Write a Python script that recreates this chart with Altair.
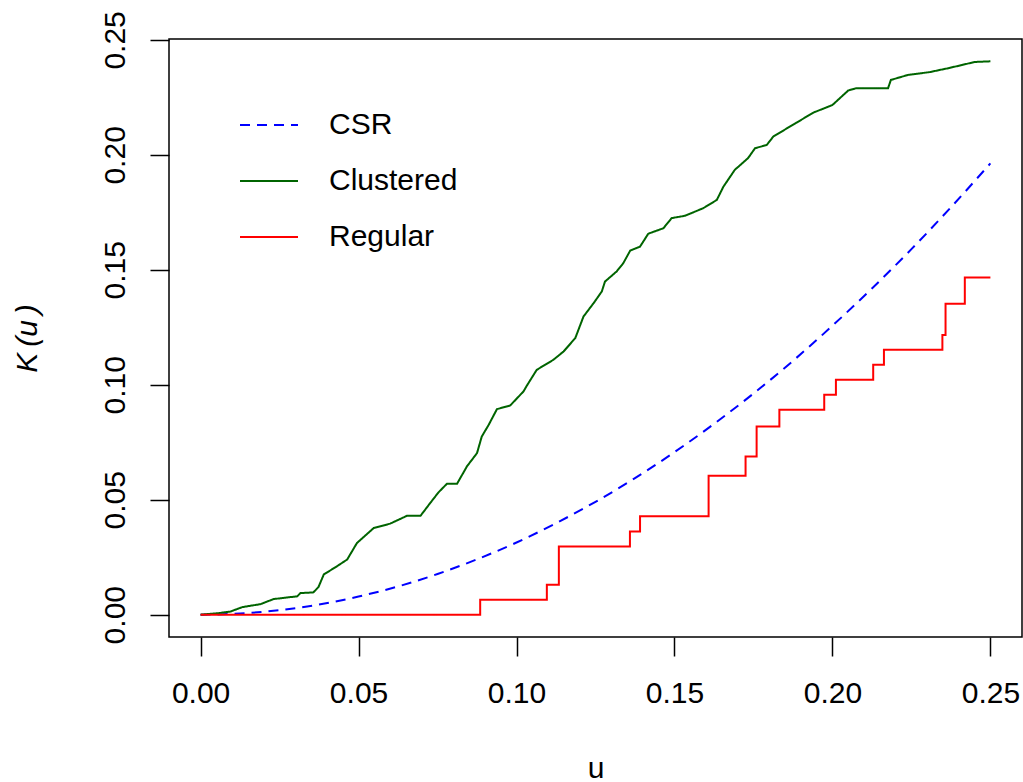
import altair as alt
import pandas as pd

# ---- data ----
csr_u = [0.0, 0.0125, 0.025, 0.0375, 0.05, 0.0625, 0.075, 0.0875, 0.1, 0.1125,
         0.125, 0.1375, 0.15, 0.1625, 0.175, 0.1875, 0.2, 0.2125, 0.225, 0.2375, 0.25]
csr_k = [0.0, 0.0005, 0.002, 0.0044, 0.0079, 0.0123, 0.0177, 0.0241, 0.0314, 0.0398,
         0.0491, 0.0594, 0.0707, 0.0830, 0.0962, 0.1104, 0.1257, 0.1419, 0.1590, 0.1772, 0.1963]

clu_u = [0.0, 0.0058, 0.0095, 0.0132, 0.019, 0.0231, 0.0306, 0.0316, 0.0357, 0.0373,
         0.039, 0.0432, 0.0464, 0.0495, 0.0548, 0.060, 0.0653, 0.0696, 0.0727, 0.0753,
         0.078, 0.0812, 0.0843, 0.0875, 0.089, 0.0912, 0.0938, 0.098, 0.1022, 0.1033,
         0.1064, 0.1117, 0.1149, 0.1186, 0.1212, 0.1244, 0.127, 0.128, 0.1317, 0.1338,
         0.136, 0.1391, 0.1417, 0.1465, 0.1491, 0.1533, 0.1591, 0.1634, 0.1655, 0.1691,
         0.1733, 0.1755, 0.1792, 0.1813, 0.1886, 0.194, 0.200, 0.205, 0.2075,
         0.2176, 0.2185, 0.224, 0.2308, 0.237, 0.245, 0.25]
clu_k = [0.0, 0.0007, 0.0014, 0.0033, 0.0046, 0.0068, 0.0080, 0.0094, 0.0097, 0.012,
         0.0175, 0.0211, 0.024, 0.0312, 0.0377, 0.0396, 0.0430, 0.0430, 0.0486, 0.0532,
         0.0570, 0.0570, 0.0645, 0.0703, 0.0775, 0.0826, 0.0894, 0.091, 0.0971, 0.0997,
         0.1065, 0.1109, 0.1145, 0.1203, 0.1297, 0.1355, 0.1406, 0.1449, 0.1493, 0.1529,
         0.1584, 0.1601, 0.1657, 0.1681, 0.1725, 0.1735, 0.1768, 0.1804, 0.1862, 0.1935,
         0.1986, 0.2029, 0.2043, 0.208, 0.214, 0.2184, 0.2217, 0.228, 0.229,
         0.229, 0.2326, 0.2348, 0.236, 0.2378, 0.2404, 0.2407]

reg_u = [0.0, 0.0885, 0.1096, 0.1134, 0.1359, 0.1391, 0.1608, 0.1725, 0.176, 0.1832,
         0.1974, 0.2011, 0.2129, 0.2163, 0.2348, 0.2358, 0.2419, 0.25]
reg_k = [0.0, 0.0065, 0.013, 0.0297, 0.0362, 0.0428, 0.0604, 0.0688, 0.0819, 0.0891,
         0.0957, 0.1022, 0.1087, 0.1152, 0.1217, 0.1352, 0.1467, 0.1467]

series = ["CSR", "Clustered", "Regular"]
colors = ["#0000FF", "#006400", "#FF0000"]
dashes = [[10, 7], [1, 0], [1, 0]]
x_ticks = [0.0, 0.05, 0.10, 0.15, 0.20, 0.25]
y_ticks = [0.0, 0.05, 0.10, 0.15, 0.20, 0.25]

df_csr = pd.DataFrame({"u": csr_u, "K": csr_k, "s": "CSR"})
df_clu = pd.DataFrame({"u": clu_u, "K": clu_k, "s": "Clustered"})
df_reg = pd.DataFrame({"u": reg_u, "K": reg_k, "s": "Regular"})

FONT = "Liberation Sans"
FS = 30

x_enc = alt.X("u:Q",
              scale=alt.Scale(domain=[-0.01, 0.26], nice=False, zero=False),
              axis=alt.Axis(values=x_ticks, format=".2f", title="u",
                            grid=False, domain=False, ticks=True, tickSize=19,
                            tickWidth=1.5, tickColor="black",
                            labelFont=FONT, labelFontSize=FS, labelColor="black",
                            labelPadding=46, labelBaseline="alphabetic",
                            labelFlush=False, labelOverlap=False,
                            titleFont=FONT, titleFontSize=FS, titleFontWeight="normal",
                            titleColor="black", titleX=426.5, titleY=140,
                            titleBaseline="alphabetic", titleAlign="center"))
y_enc = alt.Y("K:Q",
              scale=alt.Scale(domain=[-0.0097, 0.2504], nice=False, zero=False),
              axis=alt.Axis(values=y_ticks, format=".2f", title="K\u2009(u\u2009)",
                            grid=False, domain=False, ticks=True, tickSize=19,
                            tickWidth=1.5, tickColor="black",
                            labelFont=FONT, labelFontSize=FS, labelColor="black",
                            labelAngle=270, labelAlign="center",
                            labelBaseline="alphabetic", labelPadding=26,
                            labelFlush=False, labelOverlap=False,
                            titleFont=FONT, titleFontSize=FS, titleFontWeight="normal",
                            titleFontStyle="italic", titleColor="black",
                            titleAngle=270, titleX=-133, titleY=299,
                            titleBaseline="alphabetic", titleAlign="center"))

legend = alt.Legend(orient="none", legendX=70, legendY=56, title=None,
                    symbolType="stroke", symbolSize=3364, symbolStrokeWidth=2,
                    labelFont=FONT, labelFontSize=FS, labelColor="black",
                    labelOffset=30, rowPadding=11, padding=0)

color_enc = alt.Color("s:N", scale=alt.Scale(domain=series, range=colors), legend=legend)
dash_enc = alt.StrokeDash("s:N", scale=alt.Scale(domain=series, range=dashes), legend=legend)

def layer(df, interp):
    return alt.Chart(df).mark_line(strokeWidth=2, interpolate=interp).encode(
        x=x_enc, y=y_enc, color=color_enc, strokeDash=dash_enc)

chart = alt.layer(
    layer(df_csr, "monotone"),
    layer(df_clu, "linear"),
    layer(df_reg, "step-after"),
).properties(
    width=853, height=598,
    autosize=alt.AutoSizeParams(type="none"),
    padding={"left": 169, "top": 39, "right": 1, "bottom": 145},
    background="white",
).configure_view(stroke="black", strokeWidth=1.5)

chart.save("out.html", embed_options={"renderer": "svg", "actions": False})
